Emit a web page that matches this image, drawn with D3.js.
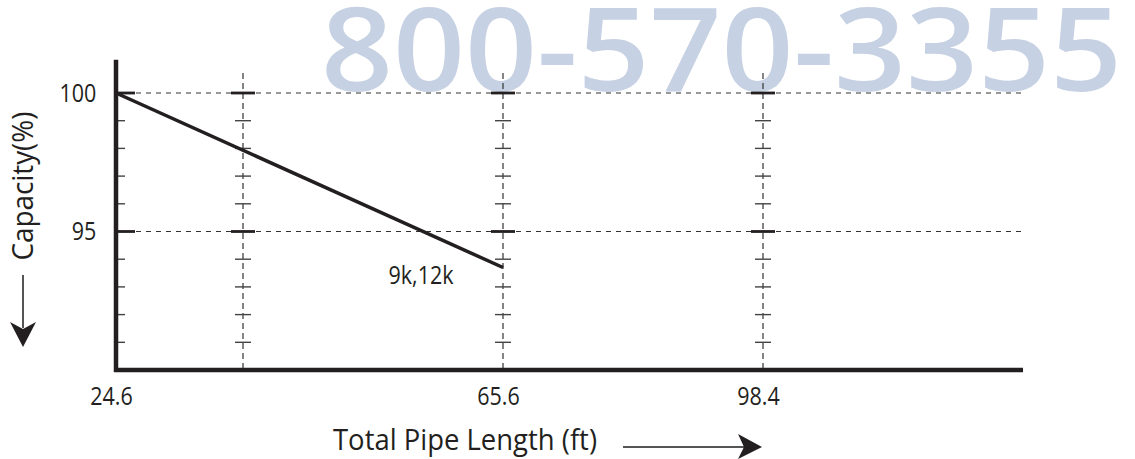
<!DOCTYPE html>
<html>
<head>
<meta charset="utf-8">
<script src="https://cdn.jsdelivr.net/npm/d3@7"></script>
<style>
  body { margin: 0; background: #fff; }
  .chart text { font-family: "Open Sans", sans-serif; fill: #231f20; }
</style>
</head>
<body>
<div class="chart"></div>
<script>
// values
const pipeLength = [24.6, 65.6];          // ft
const capacity = [100, 93.7];             // %
const xTickLabels = [24.6, 65.6, 98.4];
const xGridLines = [32.8, 65.6, 98.4];
const yTickLabels = [95, 100];
const yMinorTicks = [91, 92, 93, 94, 96, 97, 98, 99];
const seriesLabel = '9k,12k';
const phone = '800-570-3355';

let chart = {
  svg: {},
  x: {},
  y: {},
  config: {
    svgW: 1135,
    svgH: 459,
    squeeze: 0.86,   // the source font is narrower than Open Sans
    ink: '#231f20'
  },
  init: function () {
    this.svg = d3.select('.chart').append('svg')
      .attr('width', this.config.svgW)
      .attr('height', this.config.svgH);
    // axis is broken at the origin: 24.6 sits on the y axis
    this.x = d3.scaleLinear().domain([24.6, 32.8, 131.2]).range([116, 243, 1023]);
    this.y = d3.scaleLinear().domain([90, 100]).range([370, 93]);
    this.watermark();
    this.grid();
    this.axes();
    this.line();
    this.titles();
  },
  watermark: function () {
    this.svg.append('text')
      .attr('x', 321)
      .attr('y', 91)
      .attr('textLength', 801)
      .attr('lengthAdjust', 'spacingAndGlyphs')
      .style('font-size', '116px')
      .style('font-weight', 600)
      .style('fill', '#c6d1e3')
      .text(phone);
  },
  grid: function () {
    let x = this.x, y = this.y, ink = this.config.ink;
    let g = this.svg.append('g').attr('class', 'grid');
    // horizontal dashed lines
    g.selectAll('line.h').data(yTickLabels).enter().append('line')
      .attr('class', 'h')
      .attr('x1', x(24.6)).attr('x2', x(131.2))
      .attr('y1', d => y(d)).attr('y2', d => y(d))
      .attr('stroke', '#333').attr('stroke-width', 1.1)
      .attr('stroke-dasharray', '5,5');
    // vertical dashed lines with little cross ticks
    let cols = g.selectAll('g.col').data(xGridLines).enter().append('g')
      .attr('class', 'col')
      .attr('transform', d => `translate(${x(d)},0)`);
    cols.append('line')
      .attr('x1', 0).attr('x2', 0)
      .attr('y1', y(100.72)).attr('y2', y(90))
      .attr('stroke', '#333').attr('stroke-width', 1.2)
      .attr('stroke-dasharray', '6,4');
    cols.selectAll('line.minor').data(yMinorTicks).enter().append('line')
      .attr('class', 'minor')
      .attr('x1', -8).attr('x2', 8)
      .attr('y1', d => y(d)).attr('y2', d => y(d))
      .attr('stroke', '#444').attr('stroke-width', 1.4);
    cols.selectAll('line.major').data(yTickLabels).enter().append('line')
      .attr('class', 'major')
      .attr('x1', -12).attr('x2', 12)
      .attr('y1', d => y(d)).attr('y2', d => y(d))
      .attr('stroke', ink).attr('stroke-width', 2.8);
  },
  axes: function () {
    let x = this.x, y = this.y, ink = this.config.ink, sq = this.config.squeeze;
    let x0 = x(24.6);
    // y axis ticks (inside)
    this.svg.append('g').selectAll('line').data(yMinorTicks).enter().append('line')
      .attr('x1', x0).attr('x2', x0 + 9)
      .attr('y1', d => y(d)).attr('y2', d => y(d))
      .attr('stroke', '#444').attr('stroke-width', 1.4);
    this.svg.append('g').selectAll('line').data(yTickLabels).enter().append('line')
      .attr('x1', x0).attr('x2', x0 + 19)
      .attr('y1', d => y(d)).attr('y2', d => y(d))
      .attr('stroke', ink).attr('stroke-width', 2.8);
    // heavy axis lines
    this.svg.append('line')
      .attr('x1', x0).attr('x2', x0)
      .attr('y1', y(101.2)).attr('y2', y(90) + 2)
      .attr('stroke', ink).attr('stroke-width', 4.5);
    this.svg.append('line')
      .attr('x1', x0 - 2).attr('x2', x(131.2))
      .attr('y1', y(90)).attr('y2', y(90))
      .attr('stroke', ink).attr('stroke-width', 4.5);
    // labels through d3 axes
    let yAxis = d3.axisLeft(y).tickValues(yTickLabels).tickSize(0).tickPadding(23);
    let gy = this.svg.append('g')
      .attr('transform', `translate(${x0},0)`)
      .call(yAxis);
    let xAxis = d3.axisBottom(x).tickValues(xTickLabels).tickSize(0).tickPadding(17)
      .tickFormat(d3.format('.1f'));
    let gx = this.svg.append('g')
      .attr('transform', `translate(-5,${y(90)})`)
      .call(xAxis);
    [gy, gx].forEach(function (g) {
      g.select('.domain').remove();
      g.attr('font-family', null).attr('font-size', null);
      g.selectAll('text')
        .style('font-size', '25px')
        .attr('fill', ink)
        .attr('transform', `scale(${sq},1)`);
    });
  },
  line: function () {
    let x = this.x, y = this.y, ink = this.config.ink;
    let pts = d3.zip(pipeLength, capacity);
    let path = d3.line().x(d => x(d[0])).y(d => y(d[1]));
    this.svg.append('path')
      .datum(pts)
      .attr('d', path)
      .attr('fill', 'none')
      .attr('stroke', ink)
      .attr('stroke-width', 3.5);
    let last = pts[pts.length - 1];
    this.svg.append('text')
      .attr('transform', `translate(${x(last[0]) - 82},${y(last[1]) + 16}) scale(${this.config.squeeze},1)`)
      .attr('text-anchor', 'middle')
      .style('font-size', '25px')
      .text(seriesLabel);
  },
  titles: function () {
    let ink = this.config.ink;
    this.svg.append('text')
      .attr('x', 465)
      .attr('y', 450)
      .attr('text-anchor', 'middle')
      .attr('textLength', 264)
      .attr('lengthAdjust', 'spacingAndGlyphs')
      .style('font-size', '29px')
      .text('Total Pipe Length (ft)');
    this.svg.append('text')
      .attr('transform', 'translate(33,186) rotate(-90)')
      .attr('text-anchor', 'middle')
      .attr('textLength', 149)
      .attr('lengthAdjust', 'spacingAndGlyphs')
      .style('font-size', '29px')
      .text('Capacity(%)');
    // arrows
    this.svg.append('line')
      .attr('x1', 623).attr('x2', 744).attr('y1', 447).attr('y2', 447)
      .attr('stroke', '#555').attr('stroke-width', 2);
    this.svg.append('path')
      .attr('d', 'M762,447 L738,434 L744,447 L738,459 Z')
      .attr('fill', ink);
    this.svg.append('line')
      .attr('x1', 23).attr('x2', 23).attr('y1', 275).attr('y2', 328)
      .attr('stroke', '#555').attr('stroke-width', 2);
    this.svg.append('path')
      .attr('d', 'M23,347 L10,322 L23,329 L36,322 Z')
      .attr('fill', ink);
  }
};

chart.init();
</script>
</body>
</html>
